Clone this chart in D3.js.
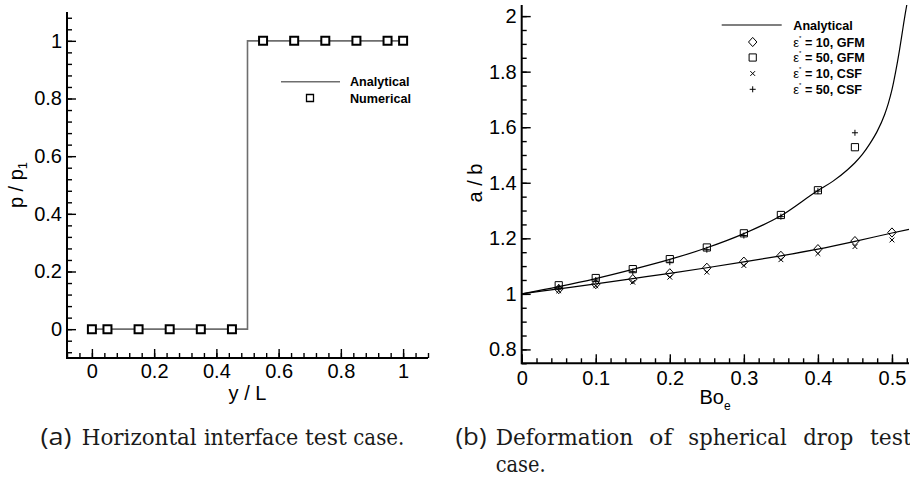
<!DOCTYPE html>
<html><head><meta charset="utf-8">
<script src="https://cdn.jsdelivr.net/npm/d3@7/dist/d3.min.js"></script>
<style>body{margin:0;background:#fff}</style>
</head><body>
<svg id="c" width="910" height="478" xmlns="http://www.w3.org/2000/svg"></svg>
<script>
// ---------- DATA ----------
// (a) Horizontal interface
const leftNumX = [0, 0.05, 0.15, 0.25, 0.35, 0.45, 0.55, 0.65, 0.75, 0.85, 0.95, 1.0];
const leftNumY = [0, 0, 0, 0, 0, 0, 1, 1, 1, 1, 1, 1];
const leftAnaX = [0, 0.5, 0.5, 1.0];
const leftAnaY = [0, 0, 1, 1];
const leftXTicks = [0, 0.2, 0.4, 0.6, 0.8, 1];
const leftXTickLabels = ["0", "0.2", "0.4", "0.6", "0.8", "1"];
const leftYTicks = [0, 0.2, 0.4, 0.6, 0.8, 1];
const leftYTickLabels = ["0", "0.2", "0.4", "0.6", "0.8", "1"];

// (b) Deformation of spherical drop
const boe = [0.05, 0.1, 0.15, 0.2, 0.25, 0.3, 0.35, 0.4, 0.45, 0.5];
const gfm10 = [1.017, 1.035, 1.053, 1.074, 1.094, 1.116, 1.137, 1.161, 1.190, 1.221];
const gfm50 = [1.031, 1.057, 1.089, 1.125, 1.167, 1.218, 1.284, 1.373, 1.528];
const csf10 = [1.011, 1.029, 1.042, 1.060, 1.078, 1.102, 1.123, 1.145, 1.170, 1.194];
const csf50 = [1.024, 1.050, 1.080, 1.114, 1.159, 1.210, 1.278, 1.370, 1.580];
const anaHighX = [0, 0.05, 0.1, 0.15, 0.2, 0.25, 0.3, 0.35, 0.4, 0.42, 0.44, 0.45, 0.46, 0.47, 0.48, 0.49, 0.495, 0.5, 0.505, 0.51, 0.515, 0.518, 0.52];
const anaHighY = [1, 1.026, 1.055, 1.088, 1.124, 1.166, 1.217, 1.281, 1.372, 1.405, 1.447, 1.472, 1.502, 1.54, 1.585, 1.645, 1.685, 1.735, 1.8, 1.875, 1.96, 2.01, 2.04];
const anaLowX = [0, 0.05, 0.1, 0.15, 0.2, 0.25, 0.3, 0.35, 0.4, 0.45, 0.5, 0.523];
const anaLowY = [1, 1.018, 1.036, 1.055, 1.074, 1.094, 1.115, 1.137, 1.161, 1.189, 1.219, 1.232];
const rightXTicks = [0, 0.1, 0.2, 0.3, 0.4, 0.5];
const rightXTickLabels = ["0", "0.1", "0.2", "0.3", "0.4", "0.5"];
const rightYTicks = [0.8, 1, 1.2, 1.4, 1.6, 1.8, 2];
const rightYTickLabels = ["0.8", "1", "1.2", "1.4", "1.6", "1.8", "2"];
const legendLabels = ["Analytical", "= 10, GFM", "= 50, GFM", "= 10, CSF", "= 50, CSF"];

// ---------- DRAWING ----------
const svg = d3.select("#c");
const SANS = "'Liberation Sans', Arial, Helvetica, sans-serif";
const SERIF = "'DejaVu Serif', serif";

function axes(g, x, y, o) {
  const [x0, x1] = x.range();
  const [y0, y1] = y.range();
  g.append("g").attr("transform", `translate(0,${y0})`)
    .call(d3.axisBottom(x).tickValues(o.xMinor).tickSize(-o.minor).tickFormat(""))
    .call(s => s.select(".domain").remove());
  g.append("g").attr("transform", `translate(${x0},0)`)
    .call(d3.axisLeft(y).tickValues(o.yMinor).tickSize(-o.minor).tickFormat(""))
    .call(s => s.select(".domain").remove());
  g.append("g").attr("transform", `translate(0,${y0})`)
    .call(d3.axisBottom(x).tickValues(o.xTicks).tickSize(-o.major).tickPadding(o.xPad)
      .tickFormat((d, i) => o.xLabels[i]))
    .call(s => s.select(".domain").remove());
  g.append("g").attr("transform", `translate(${x0},0)`)
    .call(d3.axisLeft(y).tickValues(o.yTicks).tickSize(-o.major).tickPadding(o.yPad)
      .tickFormat((d, i) => o.yLabels[i]))
    .call(s => s.select(".domain").remove());
  g.selectAll(".tick line").attr("stroke", "#000").attr("stroke-width", 1.4);
  g.selectAll(".tick text").attr("font-family", SANS).attr("font-size", 20).attr("fill", "#000");
  g.append("path").attr("d", `M${x0},${y1}V${y0}H${x1}`)
    .attr("fill", "none").attr("stroke", "#000").attr("stroke-width", 2);
}

function sym(type, cx, cy) {
  if (type === "square") { const h = 3.6; return `M${cx-h},${cy-h}H${cx+h}V${cy+h}H${cx-h}Z`; }
  if (type === "diamond") { const w = 4.2, h = 4.6; return `M${cx},${cy-h}L${cx+w},${cy}L${cx},${cy+h}L${cx-w},${cy}Z`; }
  if (type === "x") { const h = 2.4; return `M${cx-h},${cy-h}L${cx+h},${cy+h}M${cx+h},${cy-h}L${cx-h},${cy+h}`; }
  if (type === "plus") { const h = 3; return `M${cx-h},${cy}H${cx+h}M${cx},${cy-h}V${cy+h}`; }
}

// ===== (a) left chart =====
const xL = d3.scaleLinear().domain([-0.08, 1.08]).range([67, 428]);
const yL = d3.scaleLinear().domain([-0.1, 1.1]).range([358, 12]);
const gL = svg.append("g");
axes(gL, xL, yL, {
  xMinor: d3.range(-0.08, 1.0801, 0.04), yMinor: d3.range(-0.08, 1.0801, 0.04),
  xTicks: leftXTicks, yTicks: leftYTicks, xLabels: leftXTickLabels, yLabels: leftYTickLabels,
  major: 9, minor: 5, xPad: 6, yPad: 5
});
gL.append("path")
  .attr("d", d3.line().x((d, i) => xL(leftAnaX[i])).y((d, i) => yL(leftAnaY[i]))(leftAnaX))
  .attr("fill", "none").attr("stroke", "#6e6e6e").attr("stroke-width", 1.6);
gL.selectAll(".num").data(leftNumX).join("path")
  .attr("d", (d, i) => { const cx = xL(d), cy = yL(leftNumY[i]), h = 4; return `M${cx-h},${cy-h}H${cx+h}V${cy+h}H${cx-h}Z`; })
  .attr("fill", "#fff").attr("stroke", "#000").attr("stroke-width", 2);
// legend (a)
gL.append("line").attr("x1", 281).attr("x2", 340).attr("y1", 81.7).attr("y2", 81.7)
  .attr("stroke", "#6e6e6e").attr("stroke-width", 1.6);
gL.append("path").attr("d", "M306.5,94.5h7v7h-7z").attr("fill", "#fff").attr("stroke", "#000").attr("stroke-width", 1.3);
["Analytical", "Numerical"].forEach((t, i) => {
  gL.append("text").attr("x", 350).attr("y", 86.3 + i * 16.5).text(t)
    .attr("font-family", SANS).attr("font-weight", "bold").attr("font-size", 12.6);
});
gL.append("text").attr("x", 247.5).attr("y", 400).attr("text-anchor", "middle")
  .attr("font-family", SANS).attr("font-size", 20).text("y / L");
const pl = gL.append("text").attr("transform", "translate(22.5,185) rotate(-90)")
  .attr("text-anchor", "middle").attr("font-family", SANS).attr("font-size", 20);
pl.append("tspan").text("p / p");
pl.append("tspan").attr("font-size", 13).attr("dy", 4).text("1");

// ===== (b) right chart =====
const xR = d3.scaleLinear().domain([0, 0.523]).range([521.7, 909]);
const yR = d3.scaleLinear().domain([0.75, 2.04]).range([363.3, 5]);
const gR = svg.append("g");
axes(gR, xR, yR, {
  xMinor: d3.range(0, 0.5201, 0.02), yMinor: d3.range(0.75, 2.001, 0.05),
  xTicks: rightXTicks, yTicks: rightYTicks, xLabels: rightXTickLabels, yLabels: rightYTickLabels,
  major: 9, minor: 5, xPad: 8, yPad: 5
});
svg.append("clipPath").attr("id", "clipR").append("rect")
  .attr("x", 521.7).attr("y", 5).attr("width", 388).attr("height", 358.3);
gR.append("path")
  .attr("d", d3.line().curve(d3.curveMonotoneX).x((d, i) => xR(anaHighX[i])).y((d, i) => yR(anaHighY[i]))(anaHighX))
  .attr("clip-path", "url(#clipR)")
  .attr("fill", "none").attr("stroke", "#000").attr("stroke-width", 1.2);
gR.append("path")
  .attr("d", d3.line().curve(d3.curveMonotoneX).x((d, i) => xR(anaLowX[i])).y((d, i) => yR(anaLowY[i]))(anaLowX))
  .attr("fill", "none").attr("stroke", "#000").attr("stroke-width", 1.2);
const series = [
  {vals: gfm10, t: "diamond"}, {vals: gfm50, t: "square"},
  {vals: csf10, t: "x"}, {vals: csf50, t: "plus"}
];
series.forEach(s => {
  gR.append("g").selectAll("path").data(s.vals).join("path")
    .attr("d", (d, i) => sym(s.t, xR(boe[i]), yR(d)))
    .attr("fill", "none").attr("stroke", "#000").attr("stroke-width", 1);
});
const lgX = 752.7, lgT = 793.3, rows = [25, 42, 57.5, 73.5, 89.3];
gR.append("line").attr("x1", 721.7).attr("x2", 781.7).attr("y1", rows[0]).attr("y2", rows[0])
  .attr("stroke", "#000").attr("stroke-width", 1.2);
series.forEach((s, i) => {
  gR.append("path").attr("d", sym(s.t, lgX, rows[i + 1]))
    .attr("fill", "none").attr("stroke", "#000").attr("stroke-width", 1);
});
legendLabels.forEach((lab, i) => {
  const t = gR.append("text").attr("x", lgT).attr("y", rows[i] + 4.5)
    .attr("font-family", SANS).attr("font-size", 12.6).attr("font-weight", "bold");
  if (i === 0) { t.text(lab); return; }
  t.append("tspan").attr("font-weight", "normal").attr("font-size", 13).text("ε");
  t.append("tspan").attr("font-size", 6).attr("dy", -7).attr("font-weight", "normal").text("*");
  t.append("tspan").attr("dy", 7).text(" " + lab);
});
const bo = gR.append("text").attr("x", 715).attr("y", 404).attr("text-anchor", "middle")
  .attr("font-family", SANS).attr("font-size", 20);
bo.append("tspan").text("Bo");
bo.append("tspan").attr("font-size", 12).attr("dy", 6).text("e");
gR.append("text").attr("transform", "translate(482,183) rotate(-90)").attr("text-anchor", "middle")
  .attr("font-family", SANS).attr("font-size", 20).text("a / b");

// ===== captions =====
const cap = svg.append("g");
function word(txt, x, y, w) {
  cap.append("text").attr("x", x).attr("y", y).attr("font-family", SERIF)
    .attr("font-size", 21.5).attr("fill", "#1a1a1a")
    .attr("textLength", w).attr("lengthAdjust", "spacingAndGlyphs").text(txt);
}
function label(txt, x, y) {
  cap.append("text").attr("x", x).attr("y", y).attr("font-family", "'Open Sans', sans-serif")
    .attr("font-size", 23).attr("fill", "#1a1a1a").attr("textLength", 31).attr("lengthAdjust", "spacingAndGlyphs").text(txt);
}
label("(a)", 40.5, 445);
[["Horizontal", 81.7, 115], ["interface", 204, 94.3], ["test", 305, 41.7], ["case.", 353.3, 51]]
  .forEach(([w, x, l]) => word(w, x, 445, l));
label("(b)", 455.5, 445);
[["Deformation", 495.7, 137.6], ["of", 649, 23.3], ["spherical", 688.3, 98.4], ["drop", 803.3, 50], ["test", 870, 41.7]]
  .forEach(([w, x, l]) => word(w, x, 445, l));
word("case.", 495.7, 471.5, 50);
</script>
</body></html>
